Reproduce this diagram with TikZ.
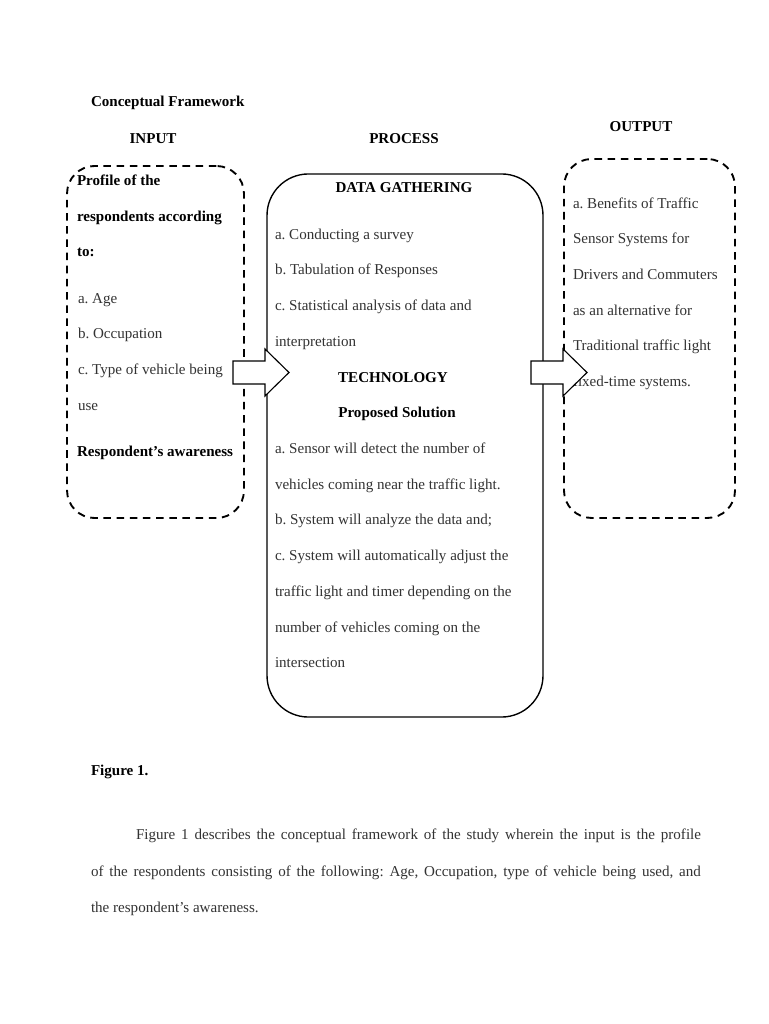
\documentclass[tikz,border=0pt]{standalone}
\usepackage{fontspec}
\setmainfont{Liberation Serif}
\usetikzlibrary{calc}
\frenchspacing
\begin{document}
\begin{tikzpicture}[x=0.7968pt,y=-0.7968pt,
  every node/.style={inner sep=0pt, outer sep=0pt, font=\fontsize{12}{14}\selectfont\frenchspacing},
  txt/.style={anchor=base west, text=black!80},
  bld/.style={anchor=base west, font=\fontsize{12}{14}\selectfont\bfseries},
  bldc/.style={anchor=base, font=\fontsize{12}{14}\selectfont\bfseries},
  dashbox/.style={draw, line width=1.5pt, dash pattern=on 6pt off 4.5pt, rounded corners=22pt},
  procbox/.style={draw, line width=1.1pt, rounded corners=33pt},
  blockarrow/.style={draw, fill=white, line width=0.9pt, line join=miter}]
\useasboundingbox (0,0) rectangle (768,1024);
\fill[white] (0,0) rectangle (768,1024);

% boxes
\node[dashbox, minimum width=141.0pt, minimum height=280.5pt] (inbox) at (155.5,342) {};
\node[procbox, minimum width=219.9pt, minimum height=432.7pt] (procbox) at (405,445.5) {};
\node[dashbox, minimum width=136.3pt, minimum height=286.0pt] (outbox) at (649.5,338.5) {};

% headings
\node[bld] (title) at (91,107) {Conceptual Framework};
\node[bldc] (hin) at (153,144) {INPUT};
\node[bldc] (hproc) at (404,144) {PROCESS};
\node[bldc] (hout) at (641,132) {OUTPUT};

% input texts
\node[bld] (i1) at (77,186) {Profile of the};
\node[bld] (i2) at (77,222) {respondents according};
\node[bld] (i3) at (77,257) {to:};
\node[txt] (i4) at (78,303) {a. Age};
\node[txt] (i5) at (78,338) {b. Occupation};
\node[txt] (i6) at (78,374) {c. Type of vehicle being};
\node[txt] (i7) at (78,410) {use};
\node[bld] (i8) at (77,456) {Respondent’s awareness};

% process texts
\node[bldc] (pdg) at (404,193) {DATA GATHERING};
\node[txt] (p1) at (275,239.5) {a. Conducting a survey};
\node[txt] (p2) at (275,275) {b. Tabulation of Responses};
\node[txt] (p3) at (275,310.5) {c. Statistical analysis of data and};
\node[txt] (p4) at (275,346) {interpretation};
\node[bldc] (ptech) at (393,382) {TECHNOLOGY};
\node[bldc] (psol) at (397,417) {Proposed Solution};
\node[txt] (p5) at (275,453) {a. Sensor will detect the number of};
\node[txt] (p6) at (275,489) {vehicles coming near the traffic light.};
\node[txt] (p7) at (275,524) {b. System will analyze the data and;};
\node[txt] (p8) at (275,560) {c. System will automatically adjust the};
\node[txt] (p9) at (275,596) {traffic light and timer depending on the};
\node[txt] (p10) at (275,632) {number of vehicles coming on the};
\node[txt] (p11) at (275,667) {intersection};

% output texts
\node[txt] (o1) at (573,208.5) {a. Benefits of Traffic};
\node[txt] (o2) at (573,244) {Sensor Systems for};
\node[txt] (o3) at (573,279.5) {Drivers and Commuters};
\node[txt] (o4) at (573,315) {as an alternative for};
\node[txt] (o5) at (573,350.5) {Traditional traffic light};
\node[txt] (o6) at (573,386) {fixed-time systems.};

% block arrows
\coordinate (a1s) at (233,372.5);
\coordinate (a2s) at (531,372.5);
\draw[blockarrow] (a1s) ++(0,-11.5) -- ++(32,0) -- ++(0,-12) -- ++(24,23.5) -- ++(-24,23.5) -- ++(0,-12) -- ++(-32,0) -- cycle;
\draw[blockarrow] (a2s) ++(0,-11.5) -- ++(32,0) -- ++(0,-12) -- ++(24,23.5) -- ++(-24,23.5) -- ++(0,-12) -- ++(-32,0) -- cycle;

% caption and paragraph
\node[bld] (fig) at (91,775) {Figure 1.};
\node[txt] (t1) at (136,839) {\makebox[450.2pt][s]{Figure 1 describes the conceptual framework of the study wherein the input is the profile}};
\node[txt] (t2) at (91,876) {\makebox[486.0pt][s]{of the respondents consisting of the following: Age, Occupation, type of vehicle being used, and}};
\node[txt] (t3) at (91,912) {the respondent{\char"0027}s awareness.};
\end{tikzpicture}
\end{document}
